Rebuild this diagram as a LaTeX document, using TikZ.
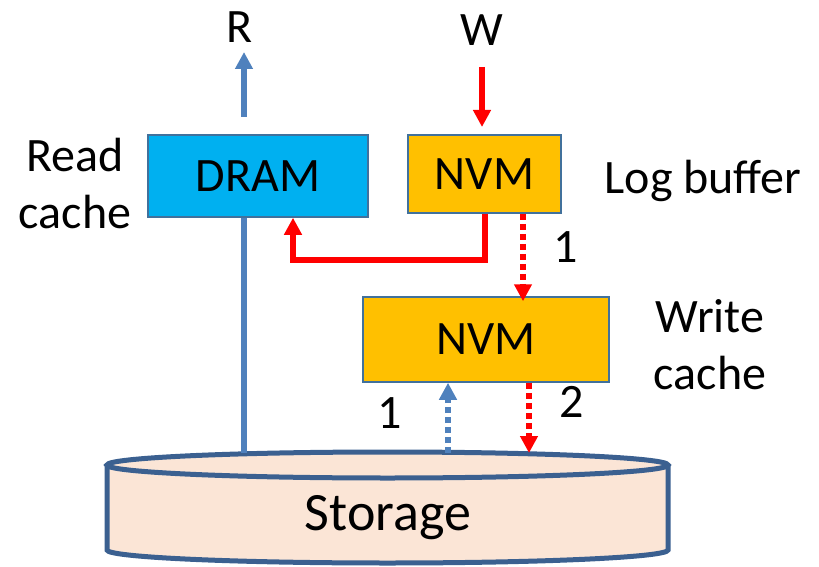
\documentclass[tikz,border=0pt]{standalone}
\usepackage{fontspec}
\setmainfont{Carlito}
\usetikzlibrary{arrows.meta}
\definecolor{dramfill}{HTML}{00B0F0}
\definecolor{nvmfill}{HTML}{FFC000}
\definecolor{boxborder}{HTML}{41719C}
\definecolor{bluearr}{HTML}{4F81BD}
\definecolor{redarr}{HTML}{FF0000}
\definecolor{cylstroke}{HTML}{3B6090}
\definecolor{cylfill}{HTML}{FBE5D6}
\tikzset{
  membox/.style={draw=boxborder, line width=1.5pt, inner sep=0pt, font=\fontsize{48}{57}\selectfont},
  lbl/.style={font=\fontsize{48}{57}\selectfont, inner sep=0pt, align=center},
  barrow/.style={draw=bluearr, line width=5.5pt, -{Triangle[width=17pt,length=17pt]}},
  rarrow/.style={draw=redarr, line width=5.5pt, -{Triangle[width=17pt,length=17pt]}},
  dotline/.style={dash pattern=on 6pt off 4pt},
}
\begin{document}
\begin{tikzpicture}[x=1pt,y=-1pt]
\useasboundingbox (0,0) rectangle (819,567);
% storage cylinder
\filldraw[fill=cylfill, draw=cylstroke, line width=5pt]
  (107,465) -- (107,550) arc[start angle=180, end angle=0, x radius=280.5, y radius=13] -- (668,465);
\filldraw[fill=cylfill, draw=cylstroke, line width=5pt] (387.5,465) ellipse[x radius=280.5, y radius=13];
\node[lbl, font=\fontsize{54}{60}\selectfont] (storage) at (388,518) {Storage};
\coordinate (cyltop) at (387.5,453);
% boxes
\node[membox, fill=dramfill, minimum width=220pt, minimum height=82pt] (dram) at (258,176) {DRAM};
\node[membox, fill=nvmfill, minimum width=153pt, minimum height=78pt] (nvm1) at (484.5,174) {NVM};
\node[membox, fill=nvmfill, minimum width=246pt, minimum height=85pt] (nvm2) at (486,339.5) {NVM};
% labels
\node[lbl] (R) at (240,27) {R};
\node[lbl] (W) at (482,30) {W};
\node[lbl] (readcache) at (75,184) {Read\\cache};
\node[lbl] (logbuf) at (703,181) {Log buffer};
\node[lbl] (writecache) at (710,345) {Write\\cache};
\node[lbl] (one1) at (566,247) {1};
\node[lbl] (one2) at (390,413) {1};
\node[lbl] (two) at (572,402) {2};
% connectors
\coordinate (rx) at (244,0);
\coordinate (rbot) at (244,117);
\coordinate (rtip) at (244,52);
\draw[barrow] (rbot) -- (rtip);
\draw[draw=bluearr, line width=5.5pt] (rx |- cyltop) -- (rx |- dram.south);
\coordinate (wtop) at (482,67);
\coordinate (wtip) at (482,127);
\draw[rarrow] (wtop) -- (wtip);
\coordinate (lx) at (485,260);
\coordinate (lx2) at (293,260);
\draw[rarrow, line join=miter] (nvm1.south -| lx) -- (lx) -- (lx2) -- (lx2 |- dram.south);
\coordinate (d1x) at (523,0);
\draw[rarrow, dotline] (d1x |- nvm1.south) -- ([yshift=-5pt]d1x |- nvm2.north);
\coordinate (d2x) at (448,0);
\draw[barrow, dotline] (d2x |- cyltop) -- (d2x |- nvm2.south);
\coordinate (d3x) at (529,0);
\draw[rarrow, dotline] (d3x |- nvm2.south) -- (d3x |- cyltop);
\end{tikzpicture}
\end{document}
